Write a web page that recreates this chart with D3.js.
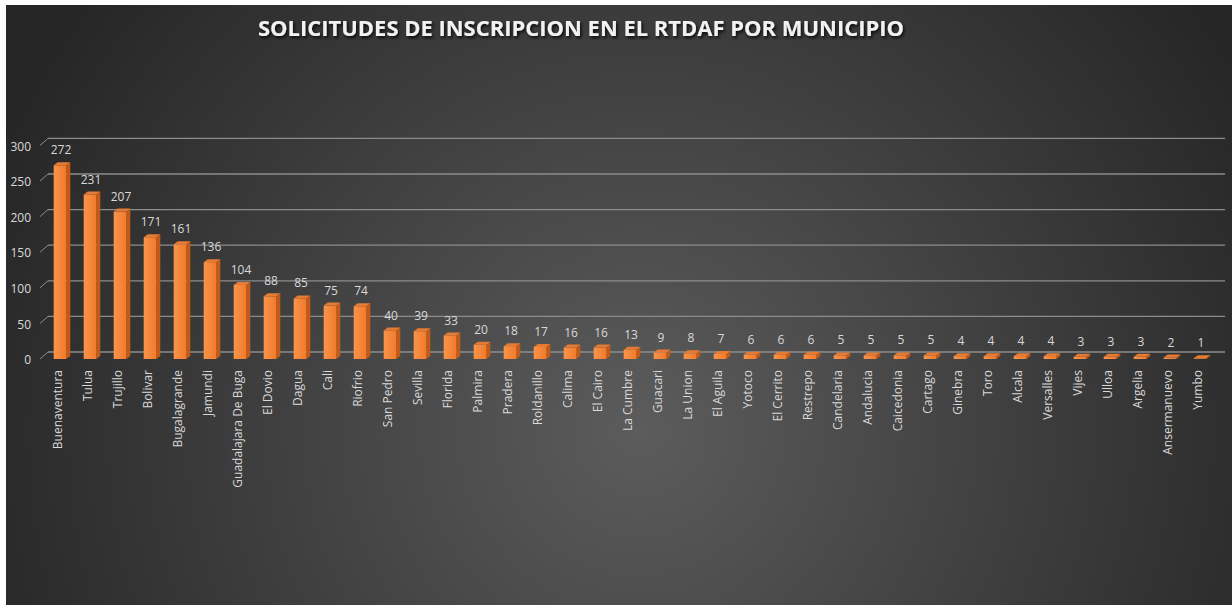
<!DOCTYPE html>
<html>
<head>
<meta charset="utf-8">
<script src="https://cdnjs.cloudflare.com/ajax/libs/d3/7.8.5/d3.min.js"></script>
<style>
  body { margin: 0; background: #fff; }
  svg { display: block; }
</style>
</head>
<body>
<svg id="chart" width="1232" height="605"></svg>
<script>
// municipios y numero de solicitudes
const municipios = ["Buenaventura", "Tulua", "Trujillo", "Bolivar", "Bugalagrande", "Jamundi",
  "Guadalajara De Buga", "El Dovio", "Dagua", "Cali", "Riofrio", "San Pedro", "Sevilla",
  "Florida", "Palmira", "Pradera", "Roldanillo", "Calima", "El Cairo", "La Cumbre", "Guacari",
  "La Union", "El Aguila", "Yotoco", "El Cerrito", "Restrepo", "Candelaria", "Andalucia",
  "Caicedonia", "Cartago", "Ginebra", "Toro", "Alcala", "Versalles", "Vijes", "Ulloa",
  "Argelia", "Ansermanuevo", "Yumbo"];
const solicitudes = [272, 231, 207, 171, 161, 136, 104, 88, 85, 75, 74, 40, 39, 33, 20, 18, 17,
  16, 16, 13, 9, 8, 7, 6, 6, 6, 5, 5, 5, 5, 4, 4, 4, 4, 3, 3, 3, 2, 1];
const yTicks = [0, 50, 100, 150, 200, 250, 300];
const titulo = "SOLICITUDES DE INSCRIPCION EN EL RTDAF POR MUNICIPIO";

const svg = d3.select("#chart");
const W = 1232, H = 605;

// fondo
let defs = svg.append("defs");
let bg = defs.append("radialGradient").attr("id", "bg")
    .attr("gradientUnits", "userSpaceOnUse")
    .attr("cx", 640).attr("cy", 430).attr("r", 700);
bg.append("stop").attr("offset", "0").attr("stop-color", "#5c5c5c");
bg.append("stop").attr("offset", "0.55").attr("stop-color", "#3e3e3e");
bg.append("stop").attr("offset", "1").attr("stop-color", "#262626");

let front = defs.append("linearGradient").attr("id", "front")
    .attr("x1", 0).attr("y1", 0).attr("x2", 1).attr("y2", 0);
front.append("stop").attr("offset", "0").attr("stop-color", "#f7944c");
front.append("stop").attr("offset", "1").attr("stop-color", "#f37a2a");

let shadow = defs.append("filter").attr("id", "shadow")
    .attr("x", "-10%").attr("y", "-50%").attr("width", "120%").attr("height", "200%");
shadow.append("feDropShadow").attr("dx", 1.5).attr("dy", 2).attr("stdDeviation", 1.5)
    .attr("flood-color", "#000").attr("flood-opacity", 0.8);

svg.append("rect").attr("x", 6).attr("y", 5).attr("width", W - 6).attr("height", H - 5)
    .attr("fill", "url(#bg)");

// escalas
const x = d3.scaleBand().domain(municipios).range([43, 1213])
    .paddingInner(0.58).paddingOuter(0.29);
const y = d3.scaleLinear().domain([0, 300]).range([359, 145.4]);

const depthX = 8, depthY = -7;   // pared del fondo
const barDX = 4, barDY = -3;     // profundidad de cada columna
const shift = 2;

// lineas de division (pared del fondo)
let grid = svg.append("g");
grid.selectAll("line.grid")
    .data(yTicks)
    .join("line")
    .attr("x1", 40 + depthX).attr("x2", 1225)
    .attr("y1", d => y(d) + depthY).attr("y2", d => y(d) + depthY)
    .attr("stroke", "#8c8c8c").attr("stroke-width", 1.3);
grid.selectAll("line.diag")
    .data(yTicks)
    .join("line")
    .attr("class", "diag")
    .attr("x1", 40).attr("x2", 40 + depthX)
    .attr("y1", d => y(d)).attr("y2", d => y(d) + depthY)
    .attr("stroke", "#8c8c8c").attr("stroke-width", 1);

// etiquetas eje y
svg.append("g").selectAll("text")
    .data(yTicks)
    .join("text")
    .attr("x", 31).attr("y", d => y(d) + 1)
    .attr("dy", "0.35em")
    .attr("text-anchor", "end")
    .attr("fill", "#d9d9d9")
    .style("font", "12px 'Open Sans'")
    .text(d => d);

// columnas 3D
let bars = svg.append("g").selectAll("g")
    .data(municipios)
    .join("g");

const bw = x.bandwidth();
bars.append("path") // lado
    .attr("d", (d, i) => {
        let x0 = x(d) + shift + bw, yt = y(solicitudes[i]), yb = y(0);
        return `M${x0},${yb}L${x0 + barDX},${yb + barDY}L${x0 + barDX},${yt + barDY}L${x0},${yt}Z`;
    })
    .attr("fill", "#c45a18");
bars.append("path") // tapa
    .attr("d", (d, i) => {
        let x0 = x(d) + shift, yt = y(solicitudes[i]);
        return `M${x0},${yt}L${x0 + bw},${yt}L${x0 + bw + barDX},${yt + barDY}L${x0 + barDX},${yt + barDY}Z`;
    })
    .attr("fill", "#e57b34");
bars.append("rect") // frente
    .attr("x", d => x(d) + shift)
    .attr("y", (d, i) => y(solicitudes[i]))
    .attr("width", bw)
    .attr("height", (d, i) => y(0) - y(solicitudes[i]))
    .attr("fill", "url(#front)");

// valores
svg.append("g").selectAll("text")
    .data(municipios)
    .join("text")
    .attr("x", d => x(d) + shift + bw / 2 + 1)
    .attr("y", (d, i) => y(solicitudes[i]) - 11)
    .attr("text-anchor", "middle")
    .attr("fill", "#d9d9d9")
    .style("font", "12px 'Open Sans'")
    .text((d, i) => solicitudes[i]);

// nombres de municipio
svg.append("g").selectAll("text")
    .data(municipios)
    .join("text")
    .attr("transform", d => `translate(${x(d) + bw / 2 + 4},370) rotate(-90)`)
    .attr("text-anchor", "end")
    .attr("fill", "#d9d9d9")
    .style("font", "12px 'Open Sans'")
    .text(d => d);

// titulo
svg.append("text")
    .attr("x", 581).attr("y", 36)
    .attr("text-anchor", "middle")
    .attr("fill", "#f2f2f2")
    .attr("filter", "url(#shadow)")
    .attr("textLength", 646).attr("lengthAdjust", "spacingAndGlyphs")
    .style("font", "bold 21px 'Open Sans'")
    .text(titulo);
</script>
</body>
</html>
